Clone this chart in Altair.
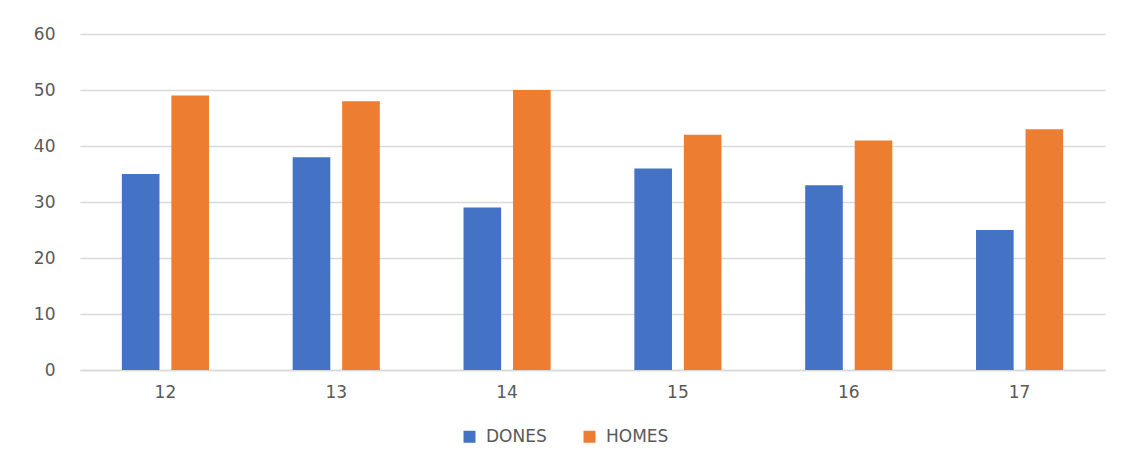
import altair as alt
import pandas as pd

categories = ["12", "13", "14", "15", "16", "17"]
dones = [35, 38, 29, 36, 33, 25]
homes = [49, 48, 50, 42, 41, 43]
series = ["DONES", "HOMES"]
colors = ["#4472c4", "#ed7d31"]

rows = []
for c, d, h in zip(categories, dones, homes):
    rows.append({"cat": c, "series": "DONES", "value": d})
    rows.append({"cat": c, "series": "HOMES", "value": h})
df = pd.DataFrame(rows)

FONT = "DejaVu Sans"

chart = alt.Chart(df).mark_bar().encode(
    x=alt.X("cat:N", sort=categories, title=None,
            scale=alt.Scale(paddingInner=0.49, paddingOuter=0.245),
            axis=alt.Axis(labelAngle=0, ticks=False, domain=True, domainColor="#d9d9d9",
                          domainWidth=1.5, labelPadding=14, labelFontSize=17,
                          labelColor="#595959", labelFont=FONT, grid=False)),
    xOffset=alt.XOffset("series:N", sort=series,
                        scale=alt.Scale(paddingInner=0.24, paddingOuter=0)),
    y=alt.Y("value:Q", title=None,
            scale=alt.Scale(domain=[0, 60]),
            axis=alt.Axis(values=[0, 10, 20, 30, 40, 50, 60], ticks=False, domain=False,
                          labelPadding=25, labelFontSize=17, labelColor="#595959",
                          labelFont=FONT, gridColor="#d9d9d9", gridWidth=1.5)),
    color=alt.Color("series:N", sort=series,
                    scale=alt.Scale(domain=series, range=colors),
                    legend=alt.Legend(title=None, orient="none", direction="horizontal",
                                      legendX=381, legendY=394, symbolType="square",
                                      symbolSize=144, symbolStrokeWidth=0,
                                      labelFontSize=17, labelColor="#595959",
                                      labelFont=FONT, columnPadding=34, labelOffset=8)),
).properties(
    width=1025, height=336,
    autosize=alt.AutoSizeParams(type="none"),
    padding={"left": 72, "top": 26, "right": 8, "bottom": 81},
    background="white",
).configure_view(stroke=None)

chart.save("out.html", embed_options={"renderer": "svg", "actions": False})
